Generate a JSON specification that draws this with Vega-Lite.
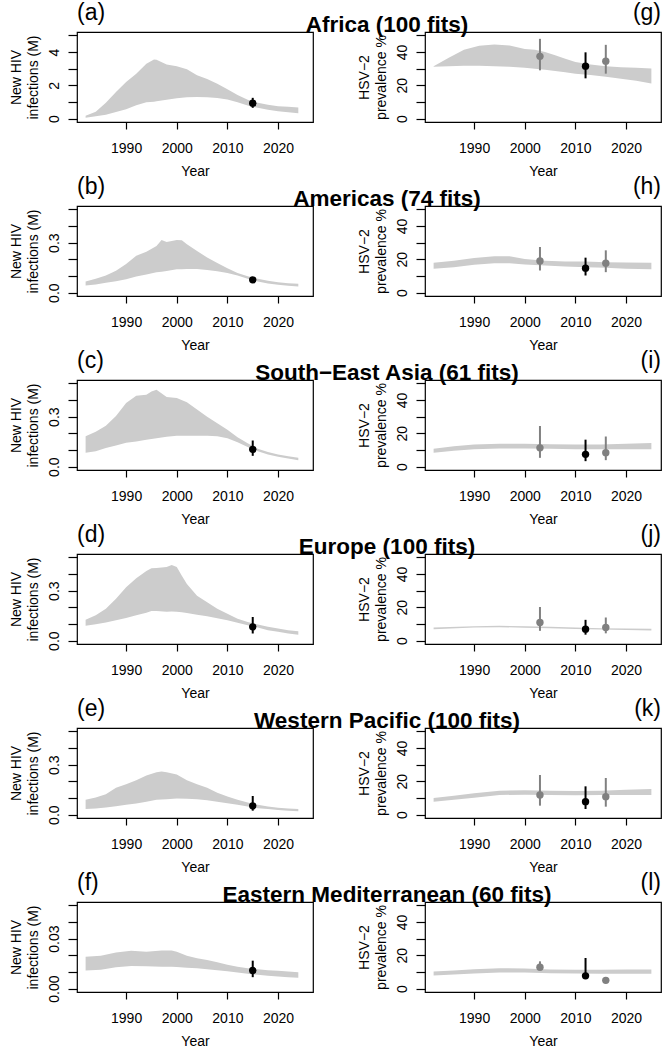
{
  "$schema": "https://vega.github.io/schema/vega-lite/v6.json",
  "background": "white",
  "autosize": {"type": "pad"},
  "padding": {"left": 8, "top": 1, "right": 0, "bottom": 0},
  "config": {
    "font": "Liberation Sans",
    "view": {"stroke": "black", "strokeWidth": 1.2},
    "axis": {"domain": false, "grid": false, "tickColor": "black", "tickWidth": 1.2, "labelColor": "black", "labelFont": "Liberation Sans", "labelFontSize": 14, "titleFont": "Liberation Sans", "titleFontSize": 14, "titleFontWeight": "normal", "titleColor": "black", "labelOverlap": false, "labelFlush": false, "labelBound": false},
    "axisX": {"tickSize": 7, "labelPadding": 12, "titlePadding": 9},
    "axisY": {"tickSize": 9, "labelPadding": 10, "labelAngle": -90, "labelAlign": "center", "labelBaseline": "alphabetic", "titlePadding": 7, "titleLineHeight": 17},
    "title": {"font": "Liberation Sans", "fontSize": 23, "fontWeight": "normal", "color": "black", "baseline": "alphabetic", "offset": 7, "frame": "group"}
  },
  "datasets": {
    "band": [
      {"p":"a","year":1982,"lo":0.06,"hi":0.18},{"p":"a","year":1984,"lo":0.14,"hi":0.42},{"p":"a","year":1986,"lo":0.24,"hi":0.95},{"p":"a","year":1988,"lo":0.4,"hi":1.6},{"p":"a","year":1990,"lo":0.57,"hi":2.2},{"p":"a","year":1992,"lo":0.8,"hi":2.7},{"p":"a","year":1994,"lo":0.98,"hi":3.3},{"p":"a","year":1995.5,"lo":1.02,"hi":3.55},{"p":"a","year":1996,"lo":1.04,"hi":3.53},{"p":"a","year":1998,"lo":1.14,"hi":3.25},{"p":"a","year":2000,"lo":1.22,"hi":3.15},{"p":"a","year":2002,"lo":1.28,"hi":2.96},{"p":"a","year":2004,"lo":1.3,"hi":2.6},{"p":"a","year":2006,"lo":1.28,"hi":2.38},{"p":"a","year":2008,"lo":1.24,"hi":2.1},{"p":"a","year":2010,"lo":1.15,"hi":1.77},{"p":"a","year":2012,"lo":0.98,"hi":1.42},{"p":"a","year":2014,"lo":0.79,"hi":1.14},{"p":"a","year":2016,"lo":0.65,"hi":0.95},{"p":"a","year":2018,"lo":0.53,"hi":0.83},{"p":"a","year":2020,"lo":0.45,"hi":0.75},{"p":"a","year":2022,"lo":0.39,"hi":0.71},{"p":"a","year":2024,"lo":0.33,"hi":0.67},

      {"p":"b","year":1982,"lo":0.043,"hi":0.067},{"p":"b","year":1984,"lo":0.049,"hi":0.083},{"p":"b","year":1986,"lo":0.059,"hi":0.103},{"p":"b","year":1988,"lo":0.069,"hi":0.132},{"p":"b","year":1990,"lo":0.081,"hi":0.172},{"p":"b","year":1992,"lo":0.097,"hi":0.221},{"p":"b","year":1994,"lo":0.109,"hi":0.245},{"p":"b","year":1996,"lo":0.122,"hi":0.28},{"p":"b","year":1997,"lo":0.126,"hi":0.316},{"p":"b","year":1998,"lo":0.13,"hi":0.304},{"p":"b","year":2000,"lo":0.14,"hi":0.316},{"p":"b","year":2001,"lo":0.141,"hi":0.314},{"p":"b","year":2002,"lo":0.142,"hi":0.29},{"p":"b","year":2004,"lo":0.142,"hi":0.25},{"p":"b","year":2006,"lo":0.136,"hi":0.211},{"p":"b","year":2008,"lo":0.128,"hi":0.178},{"p":"b","year":2010,"lo":0.118,"hi":0.146},{"p":"b","year":2012,"lo":0.103,"hi":0.118},{"p":"b","year":2014,"lo":0.083,"hi":0.099},{"p":"b","year":2016,"lo":0.067,"hi":0.083},{"p":"b","year":2018,"lo":0.055,"hi":0.071},{"p":"b","year":2020,"lo":0.047,"hi":0.063},{"p":"b","year":2022,"lo":0.041,"hi":0.057},{"p":"b","year":2024,"lo":0.037,"hi":0.053},

      {"p":"c","year":1982,"lo":0.084,"hi":0.182},{"p":"c","year":1984,"lo":0.092,"hi":0.21},{"p":"c","year":1986,"lo":0.112,"hi":0.245},{"p":"c","year":1988,"lo":0.127,"hi":0.304},{"p":"c","year":1990,"lo":0.143,"hi":0.382},{"p":"c","year":1992,"lo":0.151,"hi":0.425},{"p":"c","year":1994,"lo":0.161,"hi":0.431},{"p":"c","year":1995,"lo":0.166,"hi":0.451},{"p":"c","year":1996,"lo":0.171,"hi":0.461},{"p":"c","year":1998,"lo":0.18,"hi":0.418},{"p":"c","year":2000,"lo":0.186,"hi":0.412},{"p":"c","year":2002,"lo":0.186,"hi":0.386},{"p":"c","year":2004,"lo":0.186,"hi":0.343},{"p":"c","year":2006,"lo":0.186,"hi":0.3},{"p":"c","year":2008,"lo":0.182,"hi":0.261},{"p":"c","year":2010,"lo":0.171,"hi":0.222},{"p":"c","year":2012,"lo":0.147,"hi":0.176},{"p":"c","year":2014,"lo":0.118,"hi":0.141},{"p":"c","year":2016,"lo":0.092,"hi":0.108},{"p":"c","year":2018,"lo":0.073,"hi":0.088},{"p":"c","year":2020,"lo":0.059,"hi":0.073},{"p":"c","year":2022,"lo":0.049,"hi":0.063},{"p":"c","year":2024,"lo":0.039,"hi":0.053},

      {"p":"d","year":1982,"lo":0.089,"hi":0.126},{"p":"d","year":1984,"lo":0.099,"hi":0.152},{"p":"d","year":1986,"lo":0.109,"hi":0.191},{"p":"d","year":1988,"lo":0.122,"hi":0.251},{"p":"d","year":1990,"lo":0.136,"hi":0.32},{"p":"d","year":1992,"lo":0.152,"hi":0.375},{"p":"d","year":1994,"lo":0.168,"hi":0.418},{"p":"d","year":1995,"lo":0.178,"hi":0.434},{"p":"d","year":1996,"lo":0.178,"hi":0.436},{"p":"d","year":1998,"lo":0.174,"hi":0.442},{"p":"d","year":1999,"lo":0.175,"hi":0.454},{"p":"d","year":2000,"lo":0.174,"hi":0.442},{"p":"d","year":2001,"lo":0.17,"hi":0.389},{"p":"d","year":2002,"lo":0.166,"hi":0.34},{"p":"d","year":2004,"lo":0.156,"hi":0.27},{"p":"d","year":2006,"lo":0.146,"hi":0.231},{"p":"d","year":2008,"lo":0.134,"hi":0.191},{"p":"d","year":2010,"lo":0.122,"hi":0.162},{"p":"d","year":2012,"lo":0.107,"hi":0.132},{"p":"d","year":2014,"lo":0.093,"hi":0.112},{"p":"d","year":2016,"lo":0.079,"hi":0.097},{"p":"d","year":2018,"lo":0.063,"hi":0.083},{"p":"d","year":2020,"lo":0.053,"hi":0.073},{"p":"d","year":2022,"lo":0.043,"hi":0.063},{"p":"d","year":2024,"lo":0.036,"hi":0.057},

      {"p":"e","year":1982,"lo":0.034,"hi":0.089},{"p":"e","year":1984,"lo":0.037,"hi":0.103},{"p":"e","year":1986,"lo":0.043,"hi":0.122},{"p":"e","year":1988,"lo":0.051,"hi":0.162},{"p":"e","year":1990,"lo":0.059,"hi":0.182},{"p":"e","year":1992,"lo":0.067,"hi":0.207},{"p":"e","year":1994,"lo":0.077,"hi":0.235},{"p":"e","year":1996,"lo":0.089,"hi":0.255},{"p":"e","year":1997,"lo":0.091,"hi":0.259},{"p":"e","year":1998,"lo":0.093,"hi":0.255},{"p":"e","year":2000,"lo":0.097,"hi":0.241},{"p":"e","year":2002,"lo":0.095,"hi":0.207},{"p":"e","year":2004,"lo":0.093,"hi":0.182},{"p":"e","year":2006,"lo":0.087,"hi":0.162},{"p":"e","year":2008,"lo":0.077,"hi":0.132},{"p":"e","year":2010,"lo":0.069,"hi":0.109},{"p":"e","year":2012,"lo":0.059,"hi":0.089},{"p":"e","year":2014,"lo":0.049,"hi":0.073},{"p":"e","year":2016,"lo":0.039,"hi":0.059},{"p":"e","year":2018,"lo":0.034,"hi":0.049},{"p":"e","year":2020,"lo":0.028,"hi":0.041},{"p":"e","year":2022,"lo":0.024,"hi":0.037},{"p":"e","year":2024,"lo":0.02,"hi":0.034},

      {"p":"f","year":1982,"lo":0.0109,"hi":0.0191},{"p":"f","year":1985,"lo":0.0114,"hi":0.0197},{"p":"f","year":1988,"lo":0.0128,"hi":0.0217},{"p":"f","year":1991,"lo":0.0136,"hi":0.0227},{"p":"f","year":1994,"lo":0.0134,"hi":0.0221},{"p":"f","year":1997,"lo":0.0132,"hi":0.0229},{"p":"f","year":1999,"lo":0.0131,"hi":0.0229},{"p":"f","year":2000,"lo":0.013,"hi":0.0221},{"p":"f","year":2002,"lo":0.0126,"hi":0.0197},{"p":"f","year":2004,"lo":0.0122,"hi":0.0182},{"p":"f","year":2006,"lo":0.0116,"hi":0.0172},{"p":"f","year":2008,"lo":0.0111,"hi":0.0158},{"p":"f","year":2010,"lo":0.0105,"hi":0.0144},{"p":"f","year":2012,"lo":0.0097,"hi":0.0132},{"p":"f","year":2014,"lo":0.0089,"hi":0.0122},{"p":"f","year":2016,"lo":0.0083,"hi":0.0116},{"p":"f","year":2018,"lo":0.0077,"hi":0.0111},{"p":"f","year":2020,"lo":0.0073,"hi":0.0107},{"p":"f","year":2022,"lo":0.0069,"hi":0.0103},{"p":"f","year":2024,"lo":0.0065,"hi":0.0099},

      {"p":"g","year":1982,"lo":31.1,"hi":31.5},{"p":"g","year":1985,"lo":31.5,"hi":36.5},{"p":"g","year":1988,"lo":31.7,"hi":41.4},{"p":"g","year":1991,"lo":31.7,"hi":43.7},{"p":"g","year":1994,"lo":31.5,"hi":44.5},{"p":"g","year":1997,"lo":31.1,"hi":43.9},{"p":"g","year":2000,"lo":30.5,"hi":41.8},{"p":"g","year":2002,"lo":30.0,"hi":41.4},{"p":"g","year":2004,"lo":29.4,"hi":40.0},{"p":"g","year":2006,"lo":28.6,"hi":38.0},{"p":"g","year":2008,"lo":27.8,"hi":36.0},{"p":"g","year":2010,"lo":27.0,"hi":34.0},{"p":"g","year":2013,"lo":26.2,"hi":32.5},{"p":"g","year":2016,"lo":25.2,"hi":31.5},{"p":"g","year":2019,"lo":24.0,"hi":30.9},{"p":"g","year":2022,"lo":22.7,"hi":30.5},{"p":"g","year":2025,"lo":21.1,"hi":30.1},

      {"p":"h","year":1982,"lo":14.3,"hi":17.9},{"p":"h","year":1986,"lo":15.3,"hi":19.2},{"p":"h","year":1990,"lo":16.7,"hi":20.8},{"p":"h","year":1994,"lo":17.7,"hi":21.8},{"p":"h","year":1997,"lo":17.7,"hi":21.8},{"p":"h","year":2000,"lo":16.9,"hi":20.2},{"p":"h","year":2004,"lo":16.3,"hi":19.2},{"p":"h","year":2008,"lo":15.7,"hi":18.7},{"p":"h","year":2012,"lo":15.3,"hi":18.7},{"p":"h","year":2016,"lo":14.9,"hi":18.3},{"p":"h","year":2020,"lo":14.3,"hi":18.1},{"p":"h","year":2025,"lo":14.1,"hi":17.9},

      {"p":"i","year":1982,"lo":8.4,"hi":10.7},{"p":"i","year":1986,"lo":9.6,"hi":12.3},{"p":"i","year":1990,"lo":10.5,"hi":13.3},{"p":"i","year":1995,"lo":10.9,"hi":13.7},{"p":"i","year":2000,"lo":10.9,"hi":13.7},{"p":"i","year":2005,"lo":10.7,"hi":13.5},{"p":"i","year":2010,"lo":10.5,"hi":13.3},{"p":"i","year":2015,"lo":10.5,"hi":13.3},{"p":"i","year":2020,"lo":10.5,"hi":13.7},{"p":"i","year":2025,"lo":10.5,"hi":14.2},

      {"p":"j","year":1982,"lo":6.9,"hi":7.9},{"p":"j","year":1990,"lo":7.9,"hi":8.7},{"p":"j","year":1995,"lo":8.1,"hi":8.9},{"p":"j","year":2000,"lo":7.8,"hi":8.7},{"p":"j","year":2005,"lo":7.4,"hi":8.3},{"p":"j","year":2010,"lo":7.0,"hi":7.9},{"p":"j","year":2015,"lo":6.7,"hi":7.5},{"p":"j","year":2020,"lo":6.4,"hi":7.3},{"p":"j","year":2025,"lo":6.1,"hi":7.1},

      {"p":"k","year":1982,"lo":7.8,"hi":10},{"p":"k","year":1986,"lo":9,"hi":11.4},{"p":"k","year":1990,"lo":10.2,"hi":12.8},{"p":"k","year":1995,"lo":11.8,"hi":14.4},{"p":"k","year":2000,"lo":12,"hi":14.6},{"p":"k","year":2005,"lo":11.8,"hi":14.4},{"p":"k","year":2010,"lo":11.6,"hi":14.2},{"p":"k","year":2015,"lo":11.8,"hi":14.4},{"p":"k","year":2020,"lo":11.8,"hi":15},{"p":"k","year":2025,"lo":11.8,"hi":15.4},

      {"p":"l","year":1982,"lo":7.9,"hi":10.3},{"p":"l","year":1986,"lo":8.5,"hi":10.9},{"p":"l","year":1990,"lo":9.1,"hi":11.7},{"p":"l","year":1995,"lo":9.7,"hi":12.3},{"p":"l","year":2000,"lo":9.7,"hi":12.1},{"p":"l","year":2005,"lo":9.3,"hi":11.5},{"p":"l","year":2010,"lo":9.1,"hi":11.3},{"p":"l","year":2015,"lo":8.9,"hi":11.3},{"p":"l","year":2020,"lo":8.9,"hi":11.5},{"p":"l","year":2025,"lo":8.9,"hi":11.5}
    ],
    "bars": [
      {"p":"a","year":2015,"lo":0.65,"hi":1.25,"src":"black"},
      {"p":"b","year":2015,"lo":0.068,"hi":0.088,"src":"black"},
      {"p":"c","year":2015,"lo":0.065,"hi":0.157,"src":"black"},
      {"p":"d","year":2015,"lo":0.043,"hi":0.142,"src":"black"},
      {"p":"e","year":2015,"lo":0.024,"hi":0.112,"src":"black"},
      {"p":"f","year":2015,"lo":0.0069,"hi":0.0168,"src":"black"},
      {"p":"g","year":2003,"lo":29,"hi":47.9,"src":"gray"},{"p":"g","year":2012,"lo":24.2,"hi":39.8,"src":"black"},{"p":"g","year":2016,"lo":27,"hi":44.3,"src":"gray"},
      {"p":"h","year":2003,"lo":13.3,"hi":27.4,"src":"gray"},{"p":"h","year":2012,"lo":10.3,"hi":21,"src":"black"},{"p":"h","year":2016,"lo":12.3,"hi":25.4,"src":"gray"},
      {"p":"i","year":2003,"lo":5.3,"hi":24.4,"src":"gray"},{"p":"i","year":2012,"lo":3.3,"hi":16.2,"src":"black"},{"p":"i","year":2016,"lo":3.9,"hi":18.1,"src":"gray"},
      {"p":"j","year":2003,"lo":5.9,"hi":20.2,"src":"gray"},{"p":"j","year":2012,"lo":3.6,"hi":12.5,"src":"black"},{"p":"j","year":2016,"lo":4.4,"hi":13.9,"src":"gray"},
      {"p":"k","year":2003,"lo":5.4,"hi":23.8,"src":"gray"},{"p":"k","year":2012,"lo":3.4,"hi":17,"src":"black"},{"p":"k","year":2016,"lo":4.8,"hi":22,"src":"gray"},
      {"p":"l","year":2003,"lo":10.9,"hi":16.4,"src":"gray"},{"p":"l","year":2012,"lo":6,"hi":18.4,"src":"black"},{"p":"l","year":2016,"lo":4.6,"hi":5.4,"src":"gray"}
    ],
    "dots": [
      {"p":"a","year":2015,"lo":0.93,"hi":0.93,"src":"black"},
      {"p":"b","year":2015,"lo":0.077,"hi":0.077,"src":"black"},
      {"p":"c","year":2015,"lo":0.104,"hi":0.104,"src":"black"},
      {"p":"d","year":2015,"lo":0.083,"hi":0.083,"src":"black"},
      {"p":"e","year":2015,"lo":0.053,"hi":0.053,"src":"black"},
      {"p":"f","year":2015,"lo":0.0109,"hi":0.0109,"src":"black"},
      {"p":"g","year":2003,"lo":37.4,"hi":37.4,"src":"gray"},{"p":"g","year":2012,"lo":31.5,"hi":31.5,"src":"black"},{"p":"g","year":2016,"lo":34.5,"hi":34.5,"src":"gray"},
      {"p":"h","year":2003,"lo":19,"hi":19,"src":"gray"},{"p":"h","year":2012,"lo":14.7,"hi":14.7,"src":"black"},{"p":"h","year":2016,"lo":17.7,"hi":17.7,"src":"gray"},
      {"p":"i","year":2003,"lo":11.3,"hi":11.3,"src":"gray"},{"p":"i","year":2012,"lo":7.4,"hi":7.4,"src":"black"},{"p":"i","year":2016,"lo":8.4,"hi":8.4,"src":"gray"},
      {"p":"j","year":2003,"lo":10.9,"hi":10.9,"src":"gray"},{"p":"j","year":2012,"lo":6.9,"hi":6.9,"src":"black"},{"p":"j","year":2016,"lo":7.9,"hi":7.9,"src":"gray"},
      {"p":"k","year":2003,"lo":11.8,"hi":11.8,"src":"gray"},{"p":"k","year":2012,"lo":7.8,"hi":7.8,"src":"black"},{"p":"k","year":2016,"lo":10.8,"hi":10.8,"src":"gray"},
      {"p":"l","year":2003,"lo":12.9,"hi":12.9,"src":"gray"},{"p":"l","year":2012,"lo":7.7,"hi":7.7,"src":"black"},{"p":"l","year":2016,"lo":5,"hi":5,"src":"gray"}
    ]
  },
  "spacing": -4,
  "vconcat": [
    {"hconcat": [
      {"width": 236, "height": 90, "title": {"text": "(a)", "anchor": "start"},
       "encoding": {"x": {"field": "year", "type": "quantitative", "scale": {"domain": [1980.3, 2026.9], "nice": false, "zero": false}, "axis": {"title": "Year", "values": [1990, 2000, 2010, 2020], "format": "d"}},
         "y": {"field": "lo", "type": "quantitative", "scale": {"domain": [-0.2, 5.2], "nice": false, "zero": false}, "axis": {"title": ["New HIV", "infections (M)"], "values": [0, 1, 2, 3, 4, 5], "format": "d", "labelExpr": "datum.value % 2 == 0 ? datum.label : ''"}},
         "y2": {"field": "hi"}},
       "layer": [
        {"data": {"name": "band"}, "transform": [{"filter": "datum.p == 'a'"}], "mark": {"type": "area", "color": "#cccccc"}, "encoding": {}},
        {"data": {"name": "bars"}, "transform": [{"filter": "datum.p == 'a'"}], "mark": {"type": "rule", "strokeWidth": 2}, "encoding": {"color": {"field": "src", "type": "nominal", "scale": {"domain": ["black", "gray"], "range": ["#000000", "#808080"]}, "legend": null}}},
        {"data": {"name": "dots"}, "transform": [{"filter": "datum.p == 'a'"}], "mark": {"type": "circle", "size": 55, "opacity": 1}, "encoding": {"color": {"field": "src", "type": "nominal", "scale": {"domain": ["black", "gray"], "range": ["#000000", "#808080"]}, "legend": null}}}
       ]},
      {"width": 236, "height": 90, "title": {"text": "(g)", "anchor": "end"},
       "encoding": {"x": {"field": "year", "type": "quantitative", "scale": {"domain": [1980.3, 2026.9], "nice": false, "zero": false}, "axis": {"title": "Year", "values": [1990, 2000, 2010, 2020], "format": "d"}},
         "y": {"field": "lo", "type": "quantitative", "scale": {"domain": [-2, 52], "nice": false, "zero": false}, "axis": {"title": ["HSV−2", "prevalence %"], "values": [0, 10, 20, 30, 40, 50], "labelExpr": "datum.value % 20 == 0 ? datum.label : ''"}},
         "y2": {"field": "hi"}},
       "layer": [
        {"data": {"name": "band"}, "transform": [{"filter": "datum.p == 'g'"}], "mark": {"type": "area", "color": "#cccccc"}, "encoding": {}},
        {"data": {"name": "bars"}, "transform": [{"filter": "datum.p == 'g'"}], "mark": {"type": "rule", "strokeWidth": 2}, "encoding": {"color": {"field": "src", "type": "nominal", "scale": {"domain": ["black", "gray"], "range": ["#000000", "#808080"]}, "legend": null}}},
        {"data": {"name": "dots"}, "transform": [{"filter": "datum.p == 'g'"}], "mark": {"type": "circle", "size": 55, "opacity": 1}, "encoding": {"color": {"field": "src", "type": "nominal", "scale": {"domain": ["black", "gray"], "range": ["#000000", "#808080"]}, "legend": null}}}
       ]}
     ], "spacing": 42, "align": "none",
     "title": {"text": "Africa (100 fits)", "fontWeight": "bold", "fontSize": 22.5, "anchor": "middle", "frame": "bounds", "dx": 52, "offset": -35}},
    {"hconcat": [
      {"width": 236, "height": 90, "title": {"text": "(b)", "anchor": "start"},
       "encoding": {"x": {"field": "year", "type": "quantitative", "scale": {"domain": [1980.3, 2026.9], "nice": false, "zero": false}, "axis": {"title": "Year", "values": [1990, 2000, 2010, 2020], "format": "d"}},
         "y": {"field": "lo", "type": "quantitative", "scale": {"domain": [-0.02, 0.52], "nice": false, "zero": false}, "axis": {"title": ["New HIV", "infections (M)"], "values": [0, 0.1, 0.2, 0.3, 0.4, 0.5], "format": ".1f", "labelExpr": "datum.value == 0 || datum.value == 0.3 ? datum.label : ''"}},
         "y2": {"field": "hi"}},
       "layer": [
        {"data": {"name": "band"}, "transform": [{"filter": "datum.p == 'b'"}], "mark": {"type": "area", "color": "#cccccc"}, "encoding": {}},
        {"data": {"name": "bars"}, "transform": [{"filter": "datum.p == 'b'"}], "mark": {"type": "rule", "strokeWidth": 2}, "encoding": {"color": {"field": "src", "type": "nominal", "scale": {"domain": ["black", "gray"], "range": ["#000000", "#808080"]}, "legend": null}}},
        {"data": {"name": "dots"}, "transform": [{"filter": "datum.p == 'b'"}], "mark": {"type": "circle", "size": 55, "opacity": 1}, "encoding": {"color": {"field": "src", "type": "nominal", "scale": {"domain": ["black", "gray"], "range": ["#000000", "#808080"]}, "legend": null}}}
       ]},
      {"width": 236, "height": 90, "title": {"text": "(h)", "anchor": "end"},
       "encoding": {"x": {"field": "year", "type": "quantitative", "scale": {"domain": [1980.3, 2026.9], "nice": false, "zero": false}, "axis": {"title": "Year", "values": [1990, 2000, 2010, 2020], "format": "d"}},
         "y": {"field": "lo", "type": "quantitative", "scale": {"domain": [-2, 52], "nice": false, "zero": false}, "axis": {"title": ["HSV−2", "prevalence %"], "values": [0, 10, 20, 30, 40, 50], "labelExpr": "datum.value % 20 == 0 ? datum.label : ''"}},
         "y2": {"field": "hi"}},
       "layer": [
        {"data": {"name": "band"}, "transform": [{"filter": "datum.p == 'h'"}], "mark": {"type": "area", "color": "#cccccc"}, "encoding": {}},
        {"data": {"name": "bars"}, "transform": [{"filter": "datum.p == 'h'"}], "mark": {"type": "rule", "strokeWidth": 2}, "encoding": {"color": {"field": "src", "type": "nominal", "scale": {"domain": ["black", "gray"], "range": ["#000000", "#808080"]}, "legend": null}}},
        {"data": {"name": "dots"}, "transform": [{"filter": "datum.p == 'h'"}], "mark": {"type": "circle", "size": 55, "opacity": 1}, "encoding": {"color": {"field": "src", "type": "nominal", "scale": {"domain": ["black", "gray"], "range": ["#000000", "#808080"]}, "legend": null}}}
       ]}
     ], "spacing": 42, "align": "none",
     "title": {"text": "Americas (74 fits)", "fontWeight": "bold", "fontSize": 22.5, "anchor": "middle", "frame": "bounds", "dx": 52, "offset": -35}},
    {"hconcat": [
      {"width": 236, "height": 90, "title": {"text": "(c)", "anchor": "start"},
       "encoding": {"x": {"field": "year", "type": "quantitative", "scale": {"domain": [1980.3, 2026.9], "nice": false, "zero": false}, "axis": {"title": "Year", "values": [1990, 2000, 2010, 2020], "format": "d"}},
         "y": {"field": "lo", "type": "quantitative", "scale": {"domain": [-0.02, 0.52], "nice": false, "zero": false}, "axis": {"title": ["New HIV", "infections (M)"], "values": [0, 0.1, 0.2, 0.3, 0.4, 0.5], "format": ".1f", "labelExpr": "datum.value == 0 || datum.value == 0.3 ? datum.label : ''"}},
         "y2": {"field": "hi"}},
       "layer": [
        {"data": {"name": "band"}, "transform": [{"filter": "datum.p == 'c'"}], "mark": {"type": "area", "color": "#cccccc"}, "encoding": {}},
        {"data": {"name": "bars"}, "transform": [{"filter": "datum.p == 'c'"}], "mark": {"type": "rule", "strokeWidth": 2}, "encoding": {"color": {"field": "src", "type": "nominal", "scale": {"domain": ["black", "gray"], "range": ["#000000", "#808080"]}, "legend": null}}},
        {"data": {"name": "dots"}, "transform": [{"filter": "datum.p == 'c'"}], "mark": {"type": "circle", "size": 55, "opacity": 1}, "encoding": {"color": {"field": "src", "type": "nominal", "scale": {"domain": ["black", "gray"], "range": ["#000000", "#808080"]}, "legend": null}}}
       ]},
      {"width": 236, "height": 90, "title": {"text": "(i)", "anchor": "end"},
       "encoding": {"x": {"field": "year", "type": "quantitative", "scale": {"domain": [1980.3, 2026.9], "nice": false, "zero": false}, "axis": {"title": "Year", "values": [1990, 2000, 2010, 2020], "format": "d"}},
         "y": {"field": "lo", "type": "quantitative", "scale": {"domain": [-2, 52], "nice": false, "zero": false}, "axis": {"title": ["HSV−2", "prevalence %"], "values": [0, 10, 20, 30, 40, 50], "labelExpr": "datum.value % 20 == 0 ? datum.label : ''"}},
         "y2": {"field": "hi"}},
       "layer": [
        {"data": {"name": "band"}, "transform": [{"filter": "datum.p == 'i'"}], "mark": {"type": "area", "color": "#cccccc"}, "encoding": {}},
        {"data": {"name": "bars"}, "transform": [{"filter": "datum.p == 'i'"}], "mark": {"type": "rule", "strokeWidth": 2}, "encoding": {"color": {"field": "src", "type": "nominal", "scale": {"domain": ["black", "gray"], "range": ["#000000", "#808080"]}, "legend": null}}},
        {"data": {"name": "dots"}, "transform": [{"filter": "datum.p == 'i'"}], "mark": {"type": "circle", "size": 55, "opacity": 1}, "encoding": {"color": {"field": "src", "type": "nominal", "scale": {"domain": ["black", "gray"], "range": ["#000000", "#808080"]}, "legend": null}}}
       ]}
     ], "spacing": 42, "align": "none",
     "title": {"text": "South−East Asia (61 fits)", "fontWeight": "bold", "fontSize": 22.5, "anchor": "middle", "frame": "bounds", "dx": 52, "offset": -35}},
    {"hconcat": [
      {"width": 236, "height": 90, "title": {"text": "(d)", "anchor": "start"},
       "encoding": {"x": {"field": "year", "type": "quantitative", "scale": {"domain": [1980.3, 2026.9], "nice": false, "zero": false}, "axis": {"title": "Year", "values": [1990, 2000, 2010, 2020], "format": "d"}},
         "y": {"field": "lo", "type": "quantitative", "scale": {"domain": [-0.02, 0.52], "nice": false, "zero": false}, "axis": {"title": ["New HIV", "infections (M)"], "values": [0, 0.1, 0.2, 0.3, 0.4, 0.5], "format": ".1f", "labelExpr": "datum.value == 0 || datum.value == 0.3 ? datum.label : ''"}},
         "y2": {"field": "hi"}},
       "layer": [
        {"data": {"name": "band"}, "transform": [{"filter": "datum.p == 'd'"}], "mark": {"type": "area", "color": "#cccccc"}, "encoding": {}},
        {"data": {"name": "bars"}, "transform": [{"filter": "datum.p == 'd'"}], "mark": {"type": "rule", "strokeWidth": 2}, "encoding": {"color": {"field": "src", "type": "nominal", "scale": {"domain": ["black", "gray"], "range": ["#000000", "#808080"]}, "legend": null}}},
        {"data": {"name": "dots"}, "transform": [{"filter": "datum.p == 'd'"}], "mark": {"type": "circle", "size": 55, "opacity": 1}, "encoding": {"color": {"field": "src", "type": "nominal", "scale": {"domain": ["black", "gray"], "range": ["#000000", "#808080"]}, "legend": null}}}
       ]},
      {"width": 236, "height": 90, "title": {"text": "(j)", "anchor": "end"},
       "encoding": {"x": {"field": "year", "type": "quantitative", "scale": {"domain": [1980.3, 2026.9], "nice": false, "zero": false}, "axis": {"title": "Year", "values": [1990, 2000, 2010, 2020], "format": "d"}},
         "y": {"field": "lo", "type": "quantitative", "scale": {"domain": [-2, 52], "nice": false, "zero": false}, "axis": {"title": ["HSV−2", "prevalence %"], "values": [0, 10, 20, 30, 40, 50], "labelExpr": "datum.value % 20 == 0 ? datum.label : ''"}},
         "y2": {"field": "hi"}},
       "layer": [
        {"data": {"name": "band"}, "transform": [{"filter": "datum.p == 'j'"}], "mark": {"type": "area", "color": "#cccccc"}, "encoding": {}},
        {"data": {"name": "bars"}, "transform": [{"filter": "datum.p == 'j'"}], "mark": {"type": "rule", "strokeWidth": 2}, "encoding": {"color": {"field": "src", "type": "nominal", "scale": {"domain": ["black", "gray"], "range": ["#000000", "#808080"]}, "legend": null}}},
        {"data": {"name": "dots"}, "transform": [{"filter": "datum.p == 'j'"}], "mark": {"type": "circle", "size": 55, "opacity": 1}, "encoding": {"color": {"field": "src", "type": "nominal", "scale": {"domain": ["black", "gray"], "range": ["#000000", "#808080"]}, "legend": null}}}
       ]}
     ], "spacing": 42, "align": "none",
     "title": {"text": "Europe (100 fits)", "fontWeight": "bold", "fontSize": 22.5, "anchor": "middle", "frame": "bounds", "dx": 52, "offset": -35}},
    {"hconcat": [
      {"width": 236, "height": 90, "title": {"text": "(e)", "anchor": "start"},
       "encoding": {"x": {"field": "year", "type": "quantitative", "scale": {"domain": [1980.3, 2026.9], "nice": false, "zero": false}, "axis": {"title": "Year", "values": [1990, 2000, 2010, 2020], "format": "d"}},
         "y": {"field": "lo", "type": "quantitative", "scale": {"domain": [-0.02, 0.52], "nice": false, "zero": false}, "axis": {"title": ["New HIV", "infections (M)"], "values": [0, 0.1, 0.2, 0.3, 0.4, 0.5], "format": ".1f", "labelExpr": "datum.value == 0 || datum.value == 0.3 ? datum.label : ''"}},
         "y2": {"field": "hi"}},
       "layer": [
        {"data": {"name": "band"}, "transform": [{"filter": "datum.p == 'e'"}], "mark": {"type": "area", "color": "#cccccc"}, "encoding": {}},
        {"data": {"name": "bars"}, "transform": [{"filter": "datum.p == 'e'"}], "mark": {"type": "rule", "strokeWidth": 2}, "encoding": {"color": {"field": "src", "type": "nominal", "scale": {"domain": ["black", "gray"], "range": ["#000000", "#808080"]}, "legend": null}}},
        {"data": {"name": "dots"}, "transform": [{"filter": "datum.p == 'e'"}], "mark": {"type": "circle", "size": 55, "opacity": 1}, "encoding": {"color": {"field": "src", "type": "nominal", "scale": {"domain": ["black", "gray"], "range": ["#000000", "#808080"]}, "legend": null}}}
       ]},
      {"width": 236, "height": 90, "title": {"text": "(k)", "anchor": "end"},
       "encoding": {"x": {"field": "year", "type": "quantitative", "scale": {"domain": [1980.3, 2026.9], "nice": false, "zero": false}, "axis": {"title": "Year", "values": [1990, 2000, 2010, 2020], "format": "d"}},
         "y": {"field": "lo", "type": "quantitative", "scale": {"domain": [-2, 52], "nice": false, "zero": false}, "axis": {"title": ["HSV−2", "prevalence %"], "values": [0, 10, 20, 30, 40, 50], "labelExpr": "datum.value % 20 == 0 ? datum.label : ''"}},
         "y2": {"field": "hi"}},
       "layer": [
        {"data": {"name": "band"}, "transform": [{"filter": "datum.p == 'k'"}], "mark": {"type": "area", "color": "#cccccc"}, "encoding": {}},
        {"data": {"name": "bars"}, "transform": [{"filter": "datum.p == 'k'"}], "mark": {"type": "rule", "strokeWidth": 2}, "encoding": {"color": {"field": "src", "type": "nominal", "scale": {"domain": ["black", "gray"], "range": ["#000000", "#808080"]}, "legend": null}}},
        {"data": {"name": "dots"}, "transform": [{"filter": "datum.p == 'k'"}], "mark": {"type": "circle", "size": 55, "opacity": 1}, "encoding": {"color": {"field": "src", "type": "nominal", "scale": {"domain": ["black", "gray"], "range": ["#000000", "#808080"]}, "legend": null}}}
       ]}
     ], "spacing": 42, "align": "none",
     "title": {"text": "Western Pacific (100 fits)", "fontWeight": "bold", "fontSize": 22.5, "anchor": "middle", "frame": "bounds", "dx": 52, "offset": -35}},
    {"hconcat": [
      {"width": 236, "height": 90, "title": {"text": "(f)", "anchor": "start"},
       "encoding": {"x": {"field": "year", "type": "quantitative", "scale": {"domain": [1980.3, 2026.9], "nice": false, "zero": false}, "axis": {"title": "Year", "values": [1990, 2000, 2010, 2020], "format": "d"}},
         "y": {"field": "lo", "type": "quantitative", "scale": {"domain": [-0.002, 0.052], "nice": false, "zero": false}, "axis": {"title": ["New HIV", "infections (M)"], "values": [0, 0.01, 0.02, 0.03, 0.04, 0.05], "format": ".2f", "labelExpr": "datum.value == 0 || datum.value == 0.03 ? datum.label : ''"}},
         "y2": {"field": "hi"}},
       "layer": [
        {"data": {"name": "band"}, "transform": [{"filter": "datum.p == 'f'"}], "mark": {"type": "area", "color": "#cccccc"}, "encoding": {}},
        {"data": {"name": "bars"}, "transform": [{"filter": "datum.p == 'f'"}], "mark": {"type": "rule", "strokeWidth": 2}, "encoding": {"color": {"field": "src", "type": "nominal", "scale": {"domain": ["black", "gray"], "range": ["#000000", "#808080"]}, "legend": null}}},
        {"data": {"name": "dots"}, "transform": [{"filter": "datum.p == 'f'"}], "mark": {"type": "circle", "size": 55, "opacity": 1}, "encoding": {"color": {"field": "src", "type": "nominal", "scale": {"domain": ["black", "gray"], "range": ["#000000", "#808080"]}, "legend": null}}}
       ]},
      {"width": 236, "height": 90, "title": {"text": "(l)", "anchor": "end"},
       "encoding": {"x": {"field": "year", "type": "quantitative", "scale": {"domain": [1980.3, 2026.9], "nice": false, "zero": false}, "axis": {"title": "Year", "values": [1990, 2000, 2010, 2020], "format": "d"}},
         "y": {"field": "lo", "type": "quantitative", "scale": {"domain": [-2, 52], "nice": false, "zero": false}, "axis": {"title": ["HSV−2", "prevalence %"], "values": [0, 10, 20, 30, 40, 50], "labelExpr": "datum.value % 20 == 0 ? datum.label : ''"}},
         "y2": {"field": "hi"}},
       "layer": [
        {"data": {"name": "band"}, "transform": [{"filter": "datum.p == 'l'"}], "mark": {"type": "area", "color": "#cccccc"}, "encoding": {}},
        {"data": {"name": "bars"}, "transform": [{"filter": "datum.p == 'l'"}], "mark": {"type": "rule", "strokeWidth": 2}, "encoding": {"color": {"field": "src", "type": "nominal", "scale": {"domain": ["black", "gray"], "range": ["#000000", "#808080"]}, "legend": null}}},
        {"data": {"name": "dots"}, "transform": [{"filter": "datum.p == 'l'"}], "mark": {"type": "circle", "size": 55, "opacity": 1}, "encoding": {"color": {"field": "src", "type": "nominal", "scale": {"domain": ["black", "gray"], "range": ["#000000", "#808080"]}, "legend": null}}}
       ]}
     ], "spacing": 42, "align": "none",
     "title": {"text": "Eastern Mediterranean (60 fits)", "fontWeight": "bold", "fontSize": 22.5, "anchor": "middle", "frame": "bounds", "dx": 52, "offset": -35}}
  ]
}
